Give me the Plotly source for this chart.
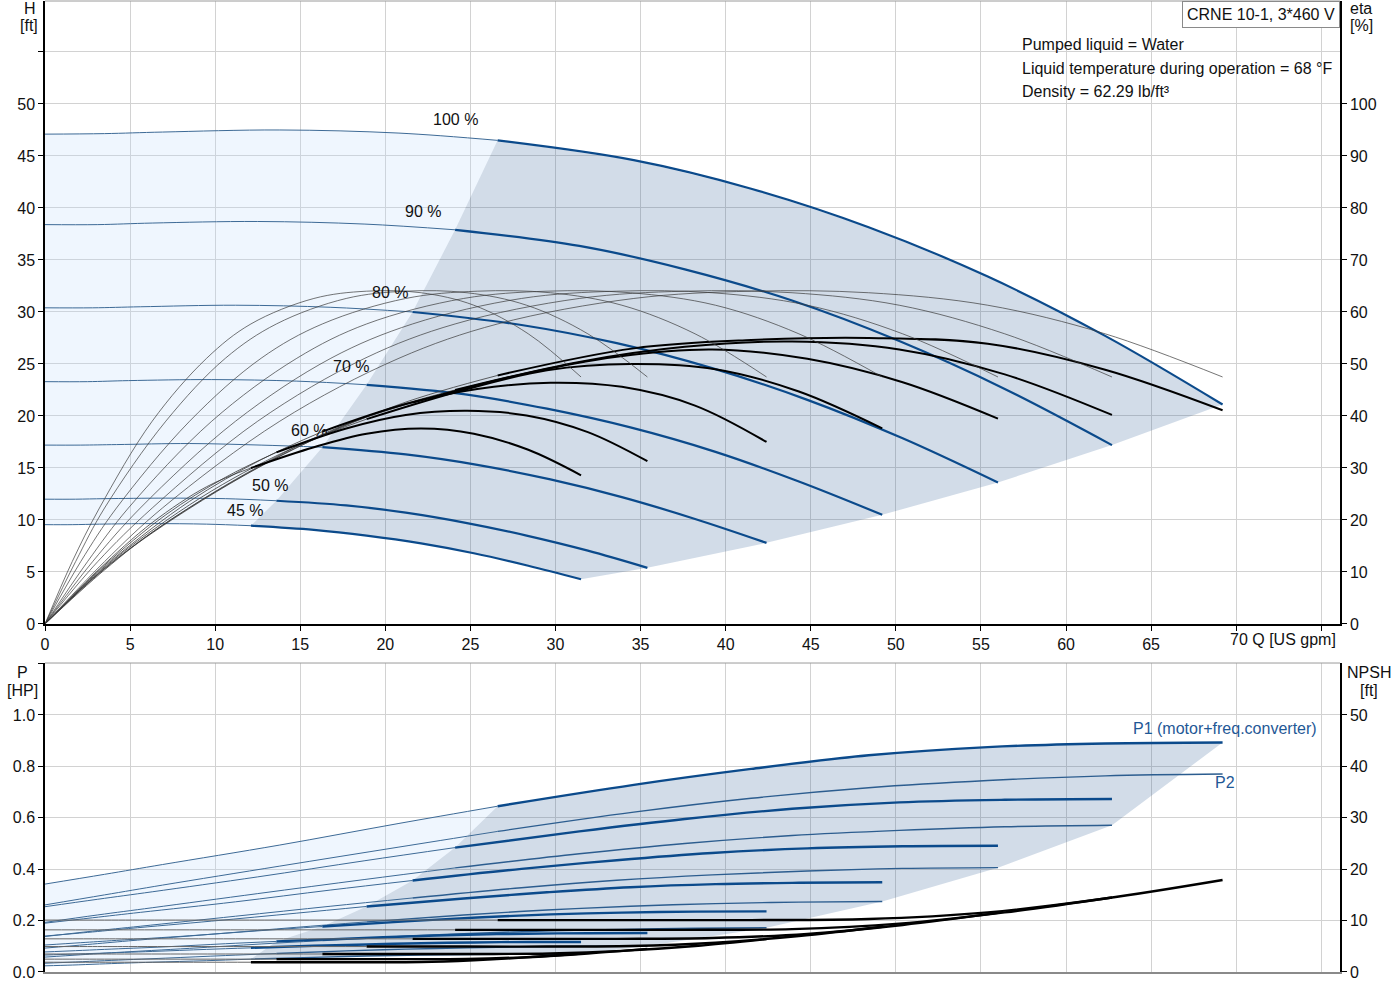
import plotly.graph_objects as go

# flow points per speed [US gpm]
q_100 = [0, 3.5, 6.9, 13.8, 20.8, 26.6, 34.6, 41.5, 48.4, 55.4, 62.3, 69.2]
q_90 = [0, 3.1, 6.3, 12.5, 18.8, 24.1, 31.4, 37.6, 43.9, 50.2, 56.4, 62.7]
q_80 = [0, 2.8, 5.6, 11.2, 16.8, 21.6, 28.0, 33.6, 39.2, 44.8, 50.4, 56.0]
q_70 = [0, 2.5, 4.9, 9.8, 14.8, 18.9, 24.6, 29.5, 34.4, 39.4, 44.3, 49.2]
q_60 = [0, 2.1, 4.2, 8.5, 12.7, 16.3, 21.2, 25.4, 29.7, 33.9, 38.2, 42.4]
q_50 = [0, 1.8, 3.5, 7.1, 10.6, 13.6, 17.7, 21.2, 24.8, 28.3, 31.9, 35.4]
q_45 = [0, 1.6, 3.2, 6.3, 9.5, 12.1, 15.8, 18.9, 22.1, 25.2, 28.4, 31.5]

# head [ft]
h_100 = [47.1, 47.15, 47.3, 47.5, 47.2, 46.5, 44.6, 41.85, 38.15, 33.4, 27.7, 21.1]
h_90 = [38.4, 38.4, 38.55, 38.7, 38.45, 37.9, 36.35, 34.1, 31.1, 27.2, 22.6, 17.2]
h_80 = [30.4, 30.4, 30.5, 30.65, 30.45, 30.0, 28.75, 27.0, 24.6, 21.55, 17.85, 13.6]
h_70 = [23.3, 23.3, 23.4, 23.5, 23.35, 23.0, 22.1, 20.7, 18.9, 16.55, 13.7, 10.5]
h_60 = [17.2, 17.2, 17.25, 17.35, 17.2, 17.0, 16.3, 15.3, 13.9, 12.2, 10.1, 7.8]
h_50 = [12.0, 12.0, 12.05, 12.1, 12.05, 11.85, 11.4, 10.7, 9.7, 8.5, 7.05, 5.4]
h_45 = [9.55, 9.55, 9.6, 9.65, 9.6, 9.45, 9.05, 8.5, 7.75, 6.8, 5.6, 4.3]

# pump efficiency [%] (same values along every speed's flow points)
eta_pump = [0, 12.0, 22.3, 39.0, 51.1, 57.7, 62.6, 64.0, 63.7, 61.3, 55.8, 47.5]

# total efficiency [%]
e_100 = [0, 10.4, 19.0, 32.3, 42.2, 47.8, 53.0, 54.6, 55.0, 53.9, 48.9, 41.1]
e_90 = [0, 9.5, 17.5, 30.0, 39.8, 45.0, 50.4, 53.3, 54.3, 52.8, 48.0, 40.2]
e_80 = [0, 8.7, 16.0, 27.8, 37.2, 42.6, 48.0, 51.4, 52.8, 51.0, 46.5, 39.5]
e_70 = [0, 7.9, 14.6, 25.6, 34.2, 39.4, 45.0, 48.8, 50.0, 49.0, 44.7, 37.6]
e_60 = [0, 6.8, 13.0, 23.6, 31.6, 37.0, 42.3, 45.2, 46.4, 45.6, 42.0, 35.0]
e_50 = [0, 5.9, 11.3, 21.0, 28.2, 33.0, 37.6, 40.2, 41.0, 40.1, 36.9, 31.3]
e_45 = [0, 5.4, 10.6, 19.5, 26.4, 30.0, 34.0, 36.6, 37.6, 36.6, 33.5, 28.6]

# P1 (motor+freq.converter) [HP]
p1_100 = [0.342, 0.380, 0.418, 0.494, 0.578, 0.645, 0.728, 0.790, 0.843, 0.875, 0.889, 0.893]
p1_90 = [0.254, 0.283, 0.312, 0.370, 0.433, 0.484, 0.547, 0.595, 0.635, 0.660, 0.670, 0.673]
p1_80 = [0.190, 0.211, 0.232, 0.273, 0.319, 0.356, 0.401, 0.435, 0.463, 0.481, 0.489, 0.491]
p1_70 = [0.140, 0.154, 0.169, 0.198, 0.229, 0.255, 0.286, 0.310, 0.330, 0.342, 0.347, 0.349]
p1_60 = [0.105, 0.114, 0.123, 0.141, 0.161, 0.177, 0.197, 0.212, 0.224, 0.231, 0.235, 0.236]
p1_50 = [0.078, 0.083, 0.088, 0.098, 0.110, 0.119, 0.130, 0.138, 0.145, 0.149, 0.151, 0.152]
p1_45 = [0.066, 0.0695, 0.073, 0.080, 0.088, 0.094, 0.102, 0.107, 0.112, 0.115, 0.117, 0.117]

# P2 [HP]
p2_100 = [0.261, 0.300, 0.338, 0.412, 0.486, 0.547, 0.622, 0.676, 0.717, 0.745, 0.763, 0.770]
p2_90 = [0.193, 0.222, 0.250, 0.305, 0.360, 0.405, 0.460, 0.500, 0.531, 0.551, 0.565, 0.571]
p2_80 = [0.138, 0.159, 0.178, 0.217, 0.256, 0.288, 0.328, 0.357, 0.378, 0.393, 0.403, 0.406]
p2_70 = [0.093, 0.107, 0.121, 0.147, 0.174, 0.195, 0.222, 0.241, 0.256, 0.266, 0.272, 0.274]
p2_60 = [0.058, 0.067, 0.076, 0.092, 0.109, 0.122, 0.139, 0.151, 0.160, 0.166, 0.170, 0.172]
p2_50 = [0.034, 0.039, 0.044, 0.054, 0.064, 0.072, 0.082, 0.089, 0.094, 0.098, 0.100, 0.101]
p2_45 = [0.024, 0.027, 0.031, 0.038, 0.044, 0.050, 0.057, 0.062, 0.066, 0.068, 0.070, 0.070]

# NPSH [ft]
n_100 = [10.1, 10.1, 10.1, 10.1, 10.1, 10.1, 10.1, 10.1, 10.3, 11.6, 14.3, 17.9]
n_90 = [8.2, 8.2, 8.2, 8.2, 8.2, 8.2, 8.2, 8.2, 8.35, 9.4, 11.6, 14.5]
n_80 = [6.45, 6.45, 6.45, 6.45, 6.45, 6.45, 6.45, 6.45, 6.6, 7.4, 9.15, 11.5]
n_70 = [4.95, 4.95, 4.95, 4.95, 4.95, 4.95, 4.95, 4.95, 5.05, 5.7, 7.0, 8.8]
n_60 = [3.5, 3.5, 3.5, 3.5, 3.5, 3.5, 3.5, 3.5, 3.6, 4.1, 5.05, 6.4]
n_50 = [2.5, 2.5, 2.5, 2.5, 2.5, 2.5, 2.5, 2.5, 2.55, 2.9, 3.6, 4.5]
n_45 = [1.9, 1.9, 1.9, 1.9, 1.9, 1.9, 1.9, 1.9, 1.95, 2.3, 2.85, 3.6]

speed_labels = ["100 %", "90 %", "80 %", "70 %", "60 %", "50 %", "45 %"]
label_q = [24.1, 22.2, 20.3, 18.0, 15.5, 13.2, 11.75]
label_h = [48.5, 39.7, 31.9, 24.8, 18.6, 13.3, 10.9]

Q = [q_100, q_90, q_80, q_70, q_60, q_50, q_45]
H = [h_100, h_90, h_80, h_70, h_60, h_50, h_45]
E = [e_100, e_90, e_80, e_70, e_60, e_50, e_45]
P1 = [p1_100, p1_90, p1_80, p1_70, p1_60, p1_50, p1_45]
P2 = [p2_100, p2_90, p2_80, p2_70, p2_60, p2_50, p2_45]
NP = [n_100, n_90, n_80, n_70, n_60, n_50, n_45]

S = 5  # first point of the operating range
BLUE = "#0b4a8b"
FONT = "Arial, Liberation Sans, sans-serif"

fig = go.Figure()


def curve(x, y, ya, xa, color, width):
    fig.add_trace(go.Scatter(x=x, y=y, xaxis=xa, yaxis=ya, mode="lines",
                             line=dict(color=color, width=width, shape="spline", smoothing=1.0),
                             hoverinfo="skip", showlegend=False))


def area(x, y, ya, xa, color):
    fig.add_trace(go.Scatter(x=x, y=y, xaxis=xa, yaxis=ya, mode="lines", fill="toself",
                             fillcolor=color, line=dict(width=0), hoverinfo="skip",
                             showlegend=False))


LIGHT = "rgba(190,220,250,0.25)"
DARK = "rgba(30,80,140,0.2)"


def regions(Y, ya, xa, top, low):
    # light part: left of the operating range
    lx = Q[0][:S + 1] + [q[S] for q in Q[1:]] + Q[6][S - 1::-1]
    ly = top[0][:S + 1] + [v[S] for v in top[1:6]] + [low[S]] + low[S - 1::-1]
    area(lx, ly, ya, xa, LIGHT)
    # dark part: operating range
    dx = Q[0][S:] + [q[-1] for q in Q[1:]] + Q[6][-2:S - 1:-1] + [q[S] for q in Q[5:0:-1]]
    dy = top[0][S:] + [v[-1] for v in Y[1:]] + low[-2:S - 1:-1] + [v[S] for v in top[5:0:-1]]
    area(dx, dy, ya, xa, DARK)


# ---- top panel: head + efficiency
regions(H, "y", "x", H, H[6])
for q, h in zip(Q, H):
    curve(q[:S + 1], h[:S + 1], "y", "x", "#3d6a96", 1)
    curve(q[S:], h[S:], "y", "x", BLUE, 2.2)
for q, e in zip(Q, E):
    curve(q, eta_pump, "y2", "x", "#3a3a3a", 0.7)
    curve(q[:S + 1], e[:S + 1], "y2", "x", "#3a3a3a", 0.8)
    curve(q[S:], e[S:], "y2", "x", "black", 2)

# ---- bottom panel: power + NPSH
regions(P2, "y3", "x2", P1, P2[6])
for q, p1, p2 in zip(Q, P1, P2):
    curve(q[:S + 1], p2[:S + 1], "y3", "x2", "#3d6a96", 1)
    curve(q[S:], p2[S:], "y3", "x2", "#2c5d8f", 1.4)
    curve(q[:S + 1], p1[:S + 1], "y3", "x2", "#3d6a96", 1)
    curve(q[S:], p1[S:], "y3", "x2", BLUE, 2.4)
for q, n in zip(Q, NP):
    curve(q[:S + 1], n[:S + 1], "y4", "x2", "#666666", 1)
    curve(q[S:], n[S:], "y4", "x2", "black", 2.4)

ann = []
for t, x, y in zip(speed_labels, label_q, label_h):
    ann.append(dict(x=x, y=y, xref="x", yref="y", text=t, showarrow=False,
                    font=dict(size=16, color="#111")))

PX = lambda px: (px - 45) / 1295
PY = lambda py: (972 - py) / 971


def ptext(t, px, py, anchor="center", color="#111"):
    ann.append(dict(x=PX(px), y=PY(py), xref="paper", yref="paper", text=t, showarrow=False,
                    xanchor=anchor, yanchor="middle", font=dict(size=16, color=color)))


ptext("H", 30, 8)
ptext("[ft]", 29, 25)
ptext("eta", 1361, 8)
ptext("[%]", 1361, 25)
ptext("P", 22, 672)
ptext("[HP]", 22, 690)
ptext("NPSH", 1369, 672)
ptext("[ft]", 1369, 690)
ptext("70 Q [US gpm]", 1228, 639, "left")
ptext("Pumped liquid = Water", 1020, 44, "left")
ptext("Liquid temperature during operation = 68 °F", 1020, 68, "left")
ptext("Density = 62.29 lb/ft³", 1020, 92, "left")
ptext("P1 (motor+freq.converter)", 1131, 728, "left", "#1f5896")
ptext("P2", 1213, 783, "left", "#1f5896")
ann.append(dict(x=1, y=1, xref="paper", yref="paper", xanchor="right", yanchor="top",
                text="CRNE 10-1, 3*460 V", showarrow=False, bgcolor="white",
                bordercolor="#8a8a8a", borderwidth=1, borderpad=4,
                font=dict(size=16, color="#111")))

shapes = [
    dict(type="rect", xref="paper", yref="paper", x0=PX(1017), x1=1, y0=PY(106), y1=PY(31),
         fillcolor="white", line=dict(width=0), layer="between"),
    dict(type="line", xref="x domain", yref="y domain", x0=0, x1=1, y0=1, y1=1,
         line=dict(color="#9a9a9a", width=1)),
    dict(type="line", xref="x2 domain", yref="y3 domain", x0=0, x1=1, y0=1, y1=1,
         line=dict(color="#9a9a9a", width=1)),
]

GRID = "#d2d2d2"
tick_font = dict(size=16, color="#111", family=FONT)
xt = list(range(0, 80, 5))

fig.update_layout(
    width=1400, height=1000,
    margin=dict(l=45, r=60, t=1, b=28),
    paper_bgcolor="white", plot_bgcolor="white",
    font=dict(family=FONT, size=16, color="#111"),
    showlegend=False,
    annotations=ann, shapes=shapes,
    xaxis=dict(domain=[0, 1], anchor="y", range=[0, 76.1], tickvals=xt,
               ticktext=[str(v) if v <= 65 else "" for v in xt], showgrid=True,
               gridcolor=GRID, showline=True, linecolor="black", linewidth=1.5,
               ticks="outside", ticklen=5, tickcolor="black", tickfont=tick_font,
               zeroline=False),
    yaxis=dict(domain=[0.3584, 1], anchor="x", range=[0, 59.9],
               tickvals=list(range(0, 60, 5)),
               ticktext=[str(v) if v <= 50 else "" for v in range(0, 60, 5)],
               showgrid=True, gridcolor=GRID, showline=True, linecolor="black",
               linewidth=1.5, ticks="outside", ticklen=5, tickcolor="black",
               tickfont=tick_font, zeroline=False),
    yaxis2=dict(overlaying="y", anchor="x", side="right", range=[0, 119.8],
                tickvals=list(range(0, 110, 10)), showgrid=False, showline=True,
                linecolor="black", linewidth=1.5, ticks="outside", ticklen=5,
                tickcolor="black", tickfont=tick_font, zeroline=False),
    xaxis2=dict(domain=[0, 1], anchor="y3", matches="x", range=[0, 76.1], tickvals=xt,
                showticklabels=False, showgrid=True, gridcolor=GRID, showline=True,
                linecolor="#8a8a8a", linewidth=1.5, ticks="", zeroline=False),
    yaxis3=dict(domain=[0, 0.3182], anchor="x2", range=[0, 1.202],
                tickvals=[0, 0.2, 0.4, 0.6, 0.8, 1.0, 1.2],
                ticktext=["0.0", "0.2", "0.4", "0.6", "0.8", "1.0", ""],
                showgrid=True, gridcolor=GRID, showline=True, linecolor="black",
                linewidth=1.5, ticks="outside", ticklen=5, tickcolor="black",
                tickfont=tick_font, zeroline=False),
    yaxis4=dict(overlaying="y3", anchor="x2", side="right", range=[0, 60.1],
                tickvals=list(range(0, 60, 10)), showgrid=False, showline=True,
                linecolor="black", linewidth=1.5, ticks="outside", ticklen=5,
                tickcolor="black", tickfont=tick_font, zeroline=False),
)

# the page's default body margin would shift the chart by 8 px
fig.write_html("out.html", config={"displayModeBar": False},
               post_script="document.body.style.margin = '0';")
